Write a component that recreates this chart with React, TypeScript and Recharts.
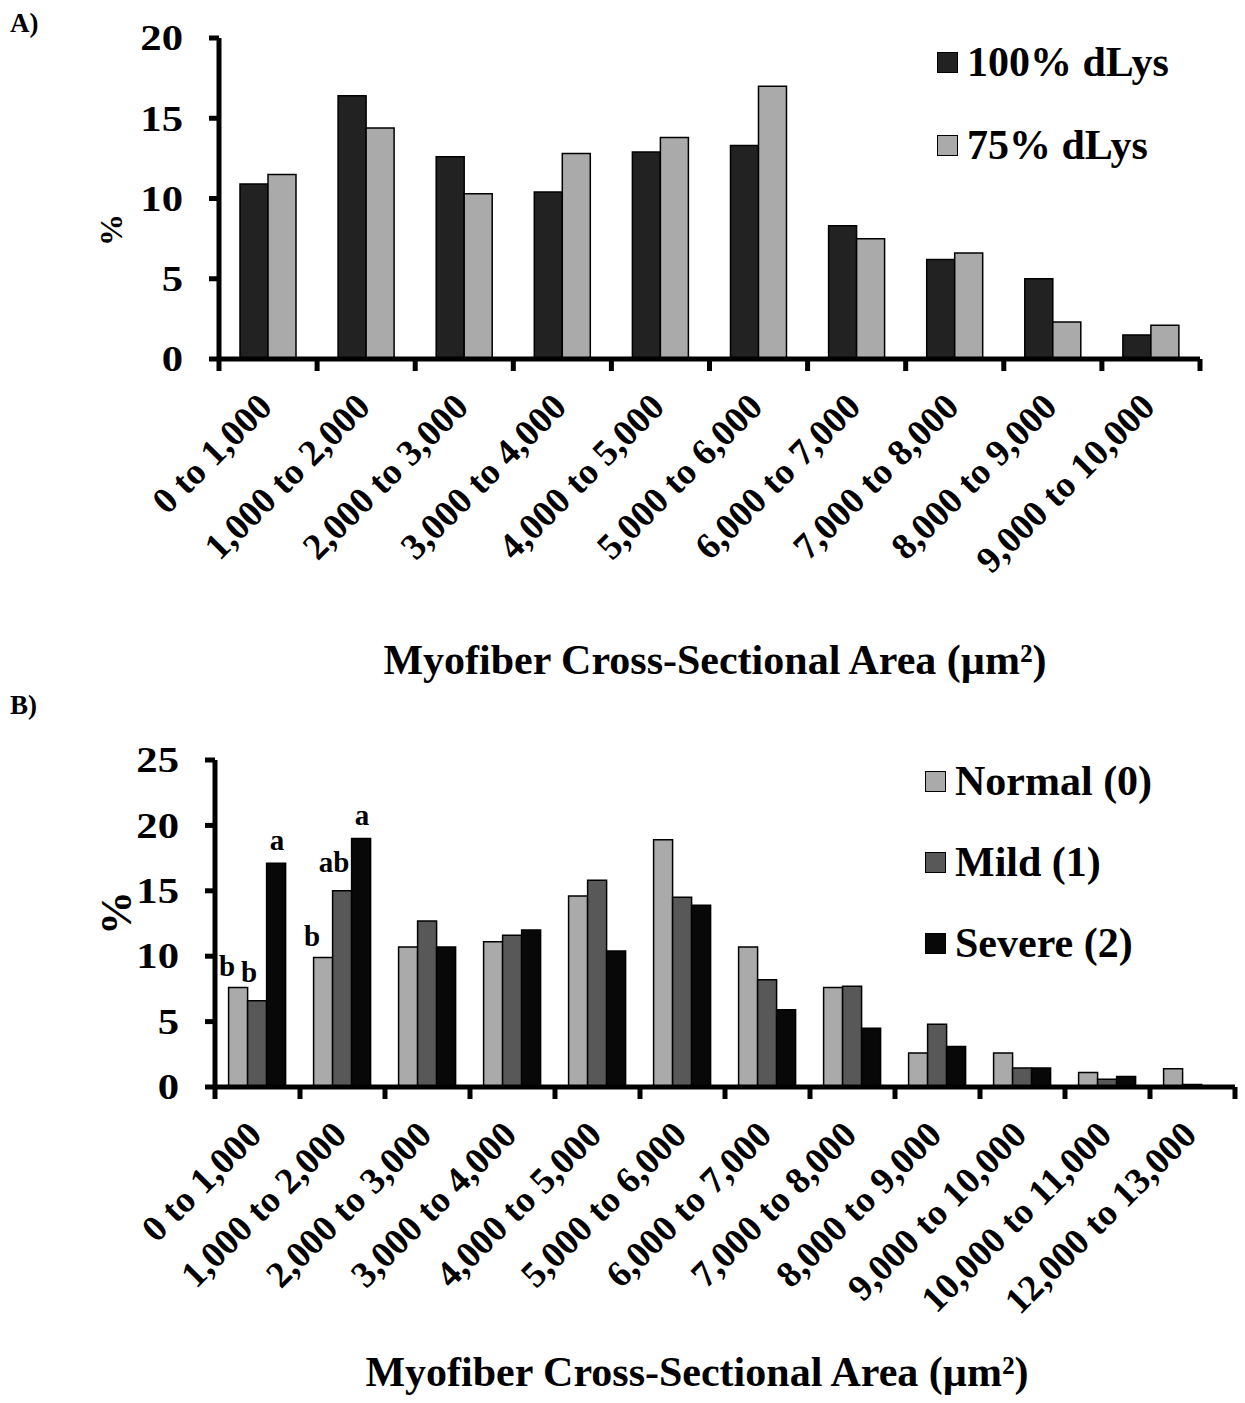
import React from "react";
import { BarChart, Bar, XAxis, YAxis, Legend, LabelList, Label } from "recharts";

const FONT = '"Liberation Serif", "Times New Roman", serif';

// panel A
const binsA = [
  "0 to 1,000",
  "1,000 to 2,000",
  "2,000 to 3,000",
  "3,000 to 4,000",
  "4,000 to 5,000",
  "5,000 to 6,000",
  "6,000 to 7,000",
  "7,000 to 8,000",
  "8,000 to 9,000",
  "9,000 to 10,000",
];
const lys100 = [10.9, 16.4, 12.6, 10.4, 12.9, 13.3, 8.3, 6.2, 5.0, 1.5];
const lys75 = [11.5, 14.4, 10.3, 12.8, 13.8, 17.0, 7.5, 6.6, 2.3, 2.1];
const ticksA = [0, 5, 10, 15, 20];

// panel B
const binsB = [
  "0 to 1,000",
  "1,000 to 2,000",
  "2,000 to 3,000",
  "3,000 to 4,000",
  "4,000 to 5,000",
  "5,000 to 6,000",
  "6,000 to 7,000",
  "7,000 to 8,000",
  "8,000 to 9,000",
  "9,000 to 10,000",
  "10,000 to 11,000",
  "12,000 to 13,000",
];
const normal = [7.6, 9.9, 10.7, 11.1, 14.6, 18.9, 10.7, 7.6, 2.6, 2.6, 1.1, 1.4];
const mild = [6.6, 15.0, 12.7, 11.6, 15.8, 14.5, 8.2, 7.7, 4.8, 1.45, 0.6, 0.2];
const severe = [17.1, 19.0, 10.7, 12.0, 10.4, 13.9, 5.9, 4.5, 3.1, 1.45, 0.8, 0];
const letterNormal = ["b", "b"];
const letterMild = ["b", "ab"];
const letterSevere = ["a", "a"];
const ticksB = [0, 5, 10, 15, 20, 25];

const dataA = binsA.map((bin, i) => ({ bin, lys100: lys100[i], lys75: lys75[i] }));
const dataB = binsB.map((bin, i) => ({
  bin,
  normal: normal[i],
  mild: mild[i],
  severe: severe[i],
  normalTag: letterNormal[i] ?? "",
  mildTag: letterMild[i] ?? "",
  severeTag: letterSevere[i] ?? "",
}));

const fills: Record<string, string> = {
  lys100: "#222222",
  lys75: "#aaaaaa",
  normal: "#aaaaaa",
  mild: "#585858",
  severe: "#080808",
};
const seriesOrder = ["lys100", "lys75", "normal", "mild", "severe"];

const axisStyle = { stroke: "#000", strokeWidth: 5 };

function makeXTick(band: number, count: number) {
  return (props: any) => {
    const { x, y, payload, index } = props;
    return (
      <g>
        <rect x={x - band / 2 - 2.5} y={y} width={5} height={12} fill="#000" />
        {index === count - 1 && <rect x={x + band / 2 - 2.5} y={y} width={5} height={12} fill="#000" />}
        <text
          transform={`translate(${x + 6},${y + 50}) rotate(-45)`}
          textAnchor="end"
          fontFamily={FONT}
          fontWeight="bold"
          fontSize={37}
          fill="#000"
        >
          {payload.value}
        </text>
      </g>
    );
  };
}

function YTick(props: any) {
  const { x, y, payload } = props;
  return (
    <text
      transform={`translate(${x},${y}) scale(1.22,1)`}
      dy="0.35em"
      textAnchor="end"
      fontFamily={FONT}
      fontWeight="bold"
      fontSize={35}
      fill="#000"
    >
      {payload.value}
    </text>
  );
}

function makeLegend(pitch: number, fontSize: number) {
  return (props: any) => {
    const items = [...(props.payload || [])].sort(
      (a: any, b: any) => seriesOrder.indexOf(a.dataKey) - seriesOrder.indexOf(b.dataKey)
    );
    return (
      <div style={{ fontFamily: FONT, fontWeight: "bold" }}>
        {items.map((entry: any, i: number) => (
          <div key={i} style={{ display: "flex", alignItems: "center", height: 42, marginBottom: pitch - 42 }}>
            <span
              style={{
                display: "inline-block",
                flex: "none",
                width: 19,
                height: 19,
                background: fills[entry.dataKey] || entry.color,
                border: "1.5px solid #000",
                marginRight: 9,
              }}
            />
            <span style={{ fontSize, lineHeight: "42px", color: "#000", whiteSpace: "nowrap" }}>{entry.value}</span>
          </div>
        ))}
      </div>
    );
  };
}

function makeTag(dx: number, dy: number) {
  return (props: any) => {
    const { x, y, width, value } = props;
    if (!value) return null;
    return (
      <text
        x={Number(x) + Number(width) / 2 + dx}
        y={Number(y) + dy}
        textAnchor="middle"
        fontFamily={FONT}
        fontWeight="bold"
        fontSize={29}
        fill="#000"
      >
        {value}
      </text>
    );
  };
}

function textAt(x: number, y: number, size: number, str: string, rotate = false) {
  return () => (
    <text
      x={x}
      y={y}
      textAnchor="middle"
      dominantBaseline={rotate ? "central" : undefined}
      transform={rotate ? `rotate(-90 ${x} ${y})` : undefined}
      fontFamily={FONT}
      fontWeight="bold"
      fontSize={size}
      fill="#000"
    >
      {str}
    </text>
  );
}

const panelLetter = {
  position: "absolute" as const,
  left: 10,
  fontFamily: FONT,
  fontWeight: "bold" as const,
  fontSize: 27,
  lineHeight: "30px",
};

export default function App() {
  return (
    <div style={{ position: "absolute", left: 0, top: 0, width: 1245, height: 1403, background: "#fff" }}>
      <div style={{ ...panelLetter, top: 8 }}>A)</div>
      <div style={{ position: "absolute", left: 0, top: 0 }}>
        <BarChart
          width={1245}
          height={700}
          data={dataA}
          margin={{ top: 38, right: 45, bottom: 0, left: 0 }}
          barCategoryGap="21.4%"
          barGap={0}
        >
          <XAxis
            dataKey="bin"
            height={341}
            interval={0}
            axisLine={axisStyle}
            tickLine={false}
            tickSize={0}
            tickMargin={0}
            tick={makeXTick(98.1, binsA.length)}
          >
            <Label content={textAt(715, 674, 42, "Myofiber Cross-Sectional Area (µm²)")} />
          </XAxis>
          <YAxis
            width={219}
            domain={[0, 20]}
            ticks={ticksA}
            interval={0}
            axisLine={axisStyle}
            tickLine={axisStyle}
            tickSize={10}
            tickMargin={26}
            tick={<YTick />}
          >
            <Label content={textAt(111, 230, 32, "%", true)} />
          </YAxis>
          <Legend
            layout="horizontal"
            verticalAlign="middle"
            align="center"
            wrapperStyle={{ top: 41, left: 937, width: 300 }}
            content={makeLegend(83, 42)}
          />
          <Bar dataKey="lys100" name="100% dLys" fill={fills.lys100} stroke="#000" strokeWidth={1.5} isAnimationActive={false} />
          <Bar dataKey="lys75" name="75% dLys" fill={fills.lys75} stroke="#000" strokeWidth={1.5} isAnimationActive={false} />
        </BarChart>
      </div>

      <div style={{ ...panelLetter, top: 690 }}>B)</div>
      <div style={{ position: "absolute", left: 0, top: 700 }}>
        <BarChart
          width={1245}
          height={703}
          data={dataB}
          margin={{ top: 60, right: 10, bottom: 0, left: 0 }}
          barCategoryGap="16%"
          barGap={0}
        >
          <XAxis
            dataKey="bin"
            height={316}
            interval={0}
            axisLine={axisStyle}
            tickLine={false}
            tickSize={0}
            tickMargin={0}
            tick={makeXTick(85, binsB.length)}
          >
            <Label content={textAt(697, 686, 42, "Myofiber Cross-Sectional Area (µm²)")} />
          </XAxis>
          <YAxis
            width={215}
            domain={[0, 25]}
            ticks={ticksB}
            interval={0}
            axisLine={axisStyle}
            tickLine={axisStyle}
            tickSize={10}
            tickMargin={26}
            tick={<YTick />}
          >
            <Label content={textAt(116, 213, 44, "%", true)} />
          </YAxis>
          <Legend
            layout="horizontal"
            verticalAlign="middle"
            align="center"
            wrapperStyle={{ top: 60, left: 925, width: 315 }}
            content={makeLegend(81, 42)}
          />
          <Bar dataKey="normal" name="Normal (0)" fill={fills.normal} stroke="#000" strokeWidth={1.5} isAnimationActive={false}>
            <LabelList dataKey="normalTag" content={makeTag(-11, -12)} />
          </Bar>
          <Bar dataKey="mild" name="Mild (1)" fill={fills.mild} stroke="#000" strokeWidth={1.5} isAnimationActive={false}>
            <LabelList dataKey="mildTag" content={makeTag(-8, -19)} />
          </Bar>
          <Bar dataKey="severe" name="Severe (2)" fill={fills.severe} stroke="#000" strokeWidth={1.5} isAnimationActive={false}>
            <LabelList dataKey="severeTag" content={makeTag(1, -13)} />
          </Bar>
        </BarChart>
      </div>
    </div>
  );
}
